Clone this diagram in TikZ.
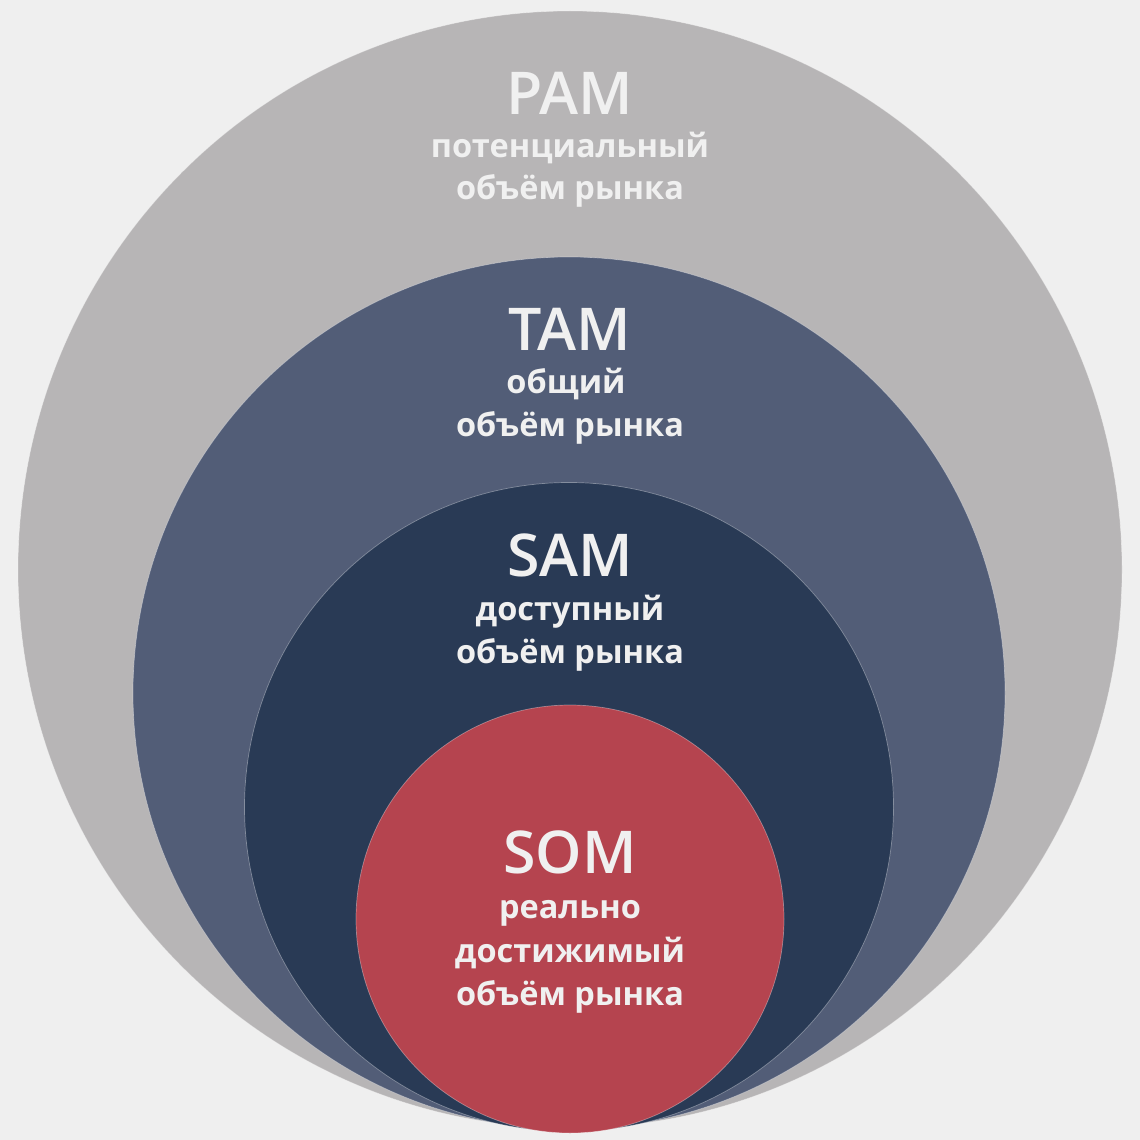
\documentclass[tikz,border=0pt]{standalone}
\usepackage{fontspec}
\setmainfont{Open Sans}
\newfontfamily\titlefont{Open Sans Semibold}
\newfontfamily\subfont{Open Sans Bold}
\definecolor{bg}{HTML}{EFEFEF}
\definecolor{pamc}{HTML}{B7B5B6}
\definecolor{tamc}{HTML}{525D77}
\definecolor{samc}{HTML}{293A55}
\definecolor{somc}{HTML}{B5444F}
\definecolor{txt}{HTML}{F0F0F0}
\begin{document}
\begin{tikzpicture}[x=1pt,y=-1pt,
  ring/.style={draw=white, draw opacity=0.35, line width=0.7pt},
  ttl/.style={anchor=base, inner sep=0pt, text=txt, font=\titlefont\fontsize{59}{61}\selectfont},
  sub/.style={anchor=base, inner sep=0pt, text=txt, font=\subfont\fontsize{32.5}{34}\selectfont}]
\fill[bg] (0,0) rectangle (1140,1140);
\useasboundingbox (0,0) rectangle (1140,1140);
\fill[pamc, ring] (570,569.5) ellipse [x radius=552, y radius=558.5];
\fill[tamc, ring] (569,693) circle [radius=436];
\fill[samc, ring] (569,807) circle [radius=324.5];
\fill[somc, ring] (570,919) circle [radius=214];
% PAM
\node[ttl] (pamT) at (570,114) {PAM};
\node[sub] (pamS1) at (570,157) {потенциальный};
\node[sub] (pamS2) at (570,199) {объём рынка};
% TAM
\node[ttl] (tamT) at (570,350) {TAM};
\node[sub] (tamS1) at (566,393) {общий};
\node[sub] (tamS2) at (570,436) {объём рынка};
% SAM
\node[ttl] (samT) at (570,576) {SAM};
\node[sub] (samS1) at (570,620) {доступный};
\node[sub] (samS2) at (570,663) {объём рынка};
% SOM
\node[ttl] (somT) at (570,873) {SOM};
\node[sub] (somS1) at (570,918) {реально};
\node[sub] (somS2) at (570,962) {достижимый};
\node[sub] (somS3) at (570,1005) {объём рынка};
\end{tikzpicture}
\end{document}
